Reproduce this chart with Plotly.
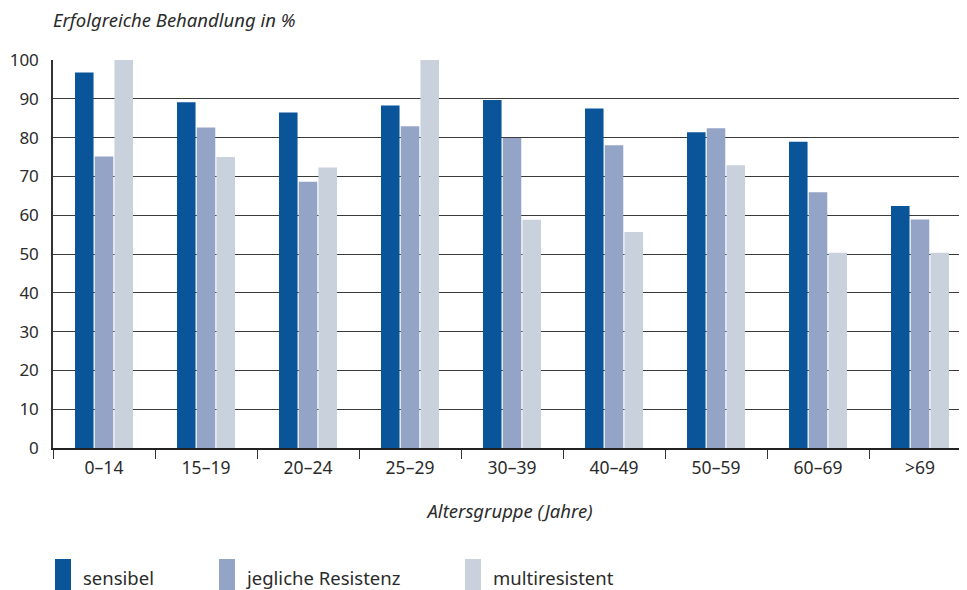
import plotly.graph_objects as go

categories = ["0–14", "15–19", "20–24", "25–29", "30–39", "40–49", "50–59", "60–69", ">69"]
sensibel = [96.8, 89.1, 86.5, 88.3, 89.7, 87.5, 81.4, 78.9, 62.4]
jegliche_resistenz = [75.1, 82.6, 68.6, 82.9, 79.9, 78.0, 82.4, 65.9, 58.9]
multiresistent = [100.0, 75.0, 72.3, 100.0, 58.8, 55.7, 72.9, 50.3, 50.3]
y_ticks = [0, 10, 20, 30, 40, 50, 60, 70, 80, 90, 100]

FONT = "Noto Sans"
TXT = "#2b2b2b"

# page body has an 8px margin; figure is placed at (8, 8) in the 967x590 window
OFF = 8
W, H = 967 - OFF, 590 - OFF
L, T = 53 - OFF, 60 - OFF
B = H - (448 - OFF)
PW = W - L          # plot width in px
PH = H - T - B      # plot height in px


def px_x(wx):  # window x -> paper x
    return (wx - OFF - L) / PW


def px_y(wy):  # window y -> paper y
    return (H - B - (wy - OFF)) / PH


series = [
    # name, values, fill, legend id, legend text x (window px), swatch x (window px)
    ("sensibel", sensibel, "#0a5599", "legend", 83, 55),
    ("jegliche Resistenz", jegliche_resistenz, "#94a4c6", "legend2", 247, 219),
    ("multiresistent", multiresistent, "#c9d1dd", "legend3", 493, 465),
]

fig = go.Figure()
for name, vals, col, leg, _, _ in series:
    fig.add_trace(go.Bar(
        x=categories, y=vals, name=name, legend=leg,
        marker=dict(color=col, line=dict(width=0)),
    ))

legend_common = dict(
    orientation="h", xanchor="left", yanchor="middle",
    font=dict(family=FONT, size=18.5, color=TXT),
    bgcolor="rgba(0,0,0,0)", itemwidth=30, tracegroupgap=0,
)
y_leg = px_y(578)
legends = {}
shapes = []
for name, vals, col, leg, tx, sx in series:
    legends[leg] = dict(x=px_x(tx - 40), y=y_leg, **legend_common)
    shapes.append(dict(
        type="rect", xref="paper", yref="paper", layer="above",
        x0=px_x(sx), x1=px_x(sx + 16), y0=px_y(559), y1=px_y(600),
        fillcolor=col, line=dict(width=0),
    ))
fig.update_layout(showlegend=True, shapes=shapes, **legends)

fig.update_layout(
    width=W, height=H,
    margin=dict(l=L, r=0, t=T, b=B, pad=0, autoexpand=False),
    paper_bgcolor="white", plot_bgcolor="white",
    barmode="group", bargap=0.42, bargroupgap=0.06,
    font=dict(family=FONT, color=TXT),
    title=dict(
        text="Erfolgreiche Behandlung in %",
        x=0, xref="paper", xanchor="left",
        y=1 - (21 - OFF) / H, yref="container", yanchor="middle",
        font=dict(family=FONT, size=18.5, style="italic", color=TXT),
    ),
    xaxis=dict(
        range=[-0.5, -0.5 + PW / 102], automargin=False,
        showline=True, linecolor="#222", linewidth=2,
        ticks="outside", tickson="boundaries", ticklen=9, tickcolor="#333", tickwidth=1,
        tickfont=dict(family=FONT, size=17.5, color=TXT),
        ticklabelstandoff=3,
        showgrid=False,
        title=dict(text="Altersgruppe (Jahre)", standoff=27,
                   font=dict(family=FONT, size=18.5, style="italic", color=TXT)),
    ),
    yaxis=dict(
        range=[0, 100], tickvals=y_ticks, automargin=False,
        showline=True, linecolor="#333", linewidth=1.5,
        showgrid=True, gridcolor="#3a3a3a", gridwidth=1.3,
        zeroline=False, ticks="", ticklabelstandoff=9,
        tickfont=dict(family=FONT, size=17, color=TXT),
    ),
)

fig.write_html("out.html")
